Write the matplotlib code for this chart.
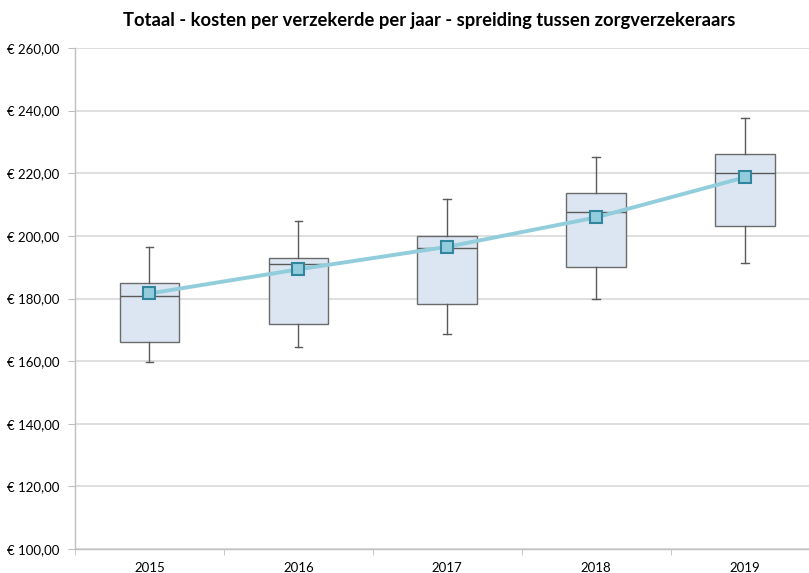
import numpy as np
import matplotlib
matplotlib.use('Agg')
import matplotlib.pyplot as plt
from matplotlib.ticker import FuncFormatter, FixedLocator

jaren = ['2015', '2016', '2017', '2018', '2019']
minimum = [159.7, 164.5, 168.7, 179.9, 191.2]
q1 = [166.1, 171.9, 178.2, 190.2, 203.2]
mediaan = [180.9, 191.0, 196.0, 207.6, 220.0]
q3 = [184.9, 192.9, 200.0, 213.6, 226.2]
maximum = [196.5, 204.8, 211.8, 225.3, 237.8]
gemiddelde = [181.6, 189.3, 196.5, 205.9, 218.7]

plt.rcParams['font.family'] = ['Lato', 'DejaVu Sans']

fig = plt.figure(figsize=(8.09, 5.73), dpi=100)
ax = fig.add_axes([75/809., 24/573., 734/809., 501/573.])

stats = []
for i in range(len(jaren)):
    stats.append({'whislo': minimum[i], 'q1': q1[i], 'med': mediaan[i],
                  'q3': q3[i], 'whishi': maximum[i], 'label': jaren[i]})

pos = np.arange(len(jaren))
ax.bxp(stats, positions=pos, widths=0.4, capwidths=0.05, showfliers=False,
       patch_artist=True,
       boxprops=dict(facecolor='#DCE6F2', edgecolor='#6B6B6B', lw=1.0),
       medianprops=dict(color='#5A5A5A', lw=1.0),
       whiskerprops=dict(color='#5A5A5A', lw=1.0),
       capprops=dict(color='#5A5A5A', lw=1.0), zorder=3)

ax.plot(pos, gemiddelde, color='#92CDDC', lw=2.8, zorder=4, solid_capstyle='round')
ax.plot(pos, gemiddelde, ls='none', marker='s', ms=8.5, mfc='#93CDDD',
        mec='#31859C', mew=1.5, zorder=5)

ax.set_ylim(100, 260)
ax.set_xlim(-0.5, 4.43)
ax.set_yticks(np.arange(100, 261, 20))
ax.yaxis.set_major_formatter(FuncFormatter(lambda v, p: '\u20ac %d,00' % v))
ax.grid(axis='y', color='#D9D9D9', lw=1.2, zorder=0)
ax.set_axisbelow(True)

ax.set_xticks(pos)
ax.set_xticklabels(jaren)
ax.xaxis.set_minor_locator(FixedLocator(np.arange(-0.5, 4.6, 1)))
ax.tick_params(axis='x', which='major', length=0, pad=9, labelsize=9.5, labelcolor='#000000')
ax.tick_params(axis='x', which='minor', length=4, color='#BFBFBF', direction='out')
ax.tick_params(axis='y', length=5, color='#BFBFBF', labelsize=9.5, pad=6, labelcolor='#000000')

for s in ['top', 'right']:
    ax.spines[s].set_visible(False)
for s in ['left', 'bottom']:
    ax.spines[s].set_color('#BFBFBF')
    ax.spines[s].set_linewidth(1.0)

fig.text(0.53, 0.965, 'Totaal - kosten per verzekerde per jaar - spreiding tussen zorgverzekeraars',
         ha='center', va='center', fontsize=13.2, fontweight='bold')

fig.savefig('out.png', dpi=100)
